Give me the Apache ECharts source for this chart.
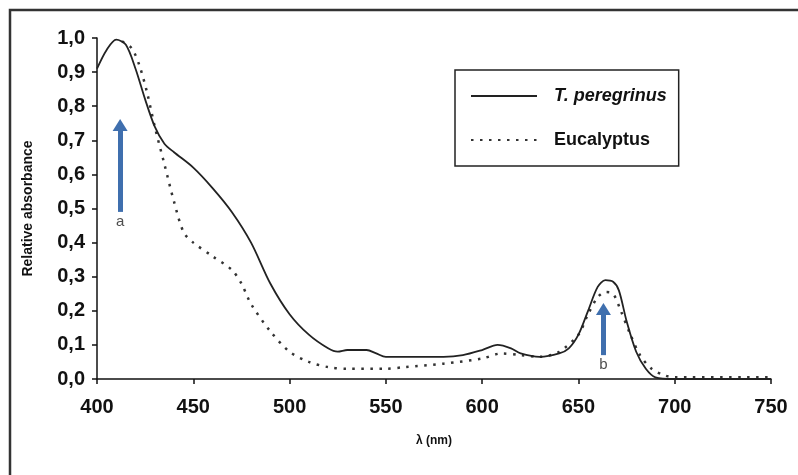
<!DOCTYPE html>
<html>
<head>
<meta charset="utf-8">
<script src="https://cdn.jsdelivr.net/npm/echarts@6/dist/echarts.min.js"></script>
<style>
  html, body { margin: 0; padding: 0; background: #fff; }
  #chart { width: 798px; height: 475px; }
</style>
</head>
<body>
<div id="chart"></div>
<script>
// wavelength (nm) / relative absorbance
const periWl = [400, 405, 410, 415, 420, 425, 430, 435, 440, 450, 460, 470, 480, 490, 500, 510, 520, 525, 530, 540, 545, 550, 560, 580, 590, 600, 608, 615, 620, 630, 640, 645, 650, 655, 660, 664, 668, 671, 675, 680, 685, 690, 700, 750]
const periAbs = [0.91, 0.965, 0.995, 0.98, 0.91, 0.82, 0.74, 0.69, 0.665, 0.62, 0.56, 0.49, 0.40, 0.28, 0.19, 0.13, 0.09, 0.08, 0.085, 0.085, 0.075, 0.065, 0.065, 0.065, 0.07, 0.085, 0.10, 0.09, 0.075, 0.065, 0.075, 0.09, 0.13, 0.20, 0.27, 0.29, 0.285, 0.26, 0.17, 0.08, 0.03, 0.005, 0, 0]

const eucaWl = [413, 418, 422, 426, 430, 435, 440, 445, 450, 460, 470, 475, 480, 490, 500, 510, 520, 530, 550, 560, 580, 600, 610, 620, 630, 640, 650, 655, 660, 664, 668, 672, 677, 682, 688, 695, 700, 750]
const eucaAbs = [0.99, 0.97, 0.92, 0.84, 0.74, 0.63, 0.52, 0.43, 0.40, 0.36, 0.32, 0.28, 0.22, 0.14, 0.08, 0.05, 0.035, 0.03, 0.03, 0.035, 0.045, 0.06, 0.075, 0.07, 0.065, 0.08, 0.13, 0.19, 0.24, 0.255, 0.25, 0.20, 0.13, 0.07, 0.03, 0.01, 0.005, 0.005]

const xTicks = [400, 450, 500, 550, 600, 650, 700, 750]
const yTicks = [0, 0.1, 0.2, 0.3, 0.4, 0.5, 0.6, 0.7, 0.8, 0.9, 1.0]

// arrows: [wavelength, from, to, label]
const arrowA = [412, 0.49, 0.745, 'a']
const arrowB = [663, 0.07, 0.205, 'b']

const chart = echarts.init(document.getElementById('chart'))

function zip(xs, ys) {
  return xs.map((x, i) => [x, ys[i]])
}

function arrowLine(a) {
  return [{ coord: [a[0], a[1]] }, { coord: [a[0], a[2]] }]
}

const labelFont = { fontFamily: 'Liberation Sans', fontWeight: 900, fontSize: 20, color: '#111' }

chart.setOption({
  animation: false,
  backgroundColor: '#fff',
  graphic: [{
    type: 'rect',
    shape: { x: 10, y: 10, width: 820, height: 500 },
    style: { fill: 'none', stroke: '#333', lineWidth: 2.5 }
  }],
  grid: { left: 97, right: 27, top: 38, bottom: 96 },
  legend: {
    left: 455,
    top: 70,
    orient: 'vertical',
    width: 227,
    padding: [17, 12, 17, 15],
    itemGap: 26,
    itemWidth: 66,
    itemHeight: 14,
    borderColor: '#222',
    borderWidth: 1.5,
    itemStyle: { opacity: 0 },
    textStyle: { fontFamily: 'Liberation Sans', fontWeight: 'bold', fontSize: 18, color: '#111', padding: [0, 0, 0, 12] },
    data: [
      { name: 'T. peregrinus', textStyle: { fontStyle: 'italic' } },
      { name: 'Eucalyptus' }
    ]
  },
  xAxis: {
    type: 'value',
    min: 400,
    max: 750,
    interval: 50,
    name: 'λ (nm)',
    nameLocation: 'middle',
    nameGap: 56,
    nameTextStyle: { fontFamily: 'Liberation Sans', fontWeight: 'bold', fontSize: 12, color: '#111' },
    axisLine: { lineStyle: { color: '#111', width: 1.5 } },
    axisTick: { length: 5, lineStyle: { color: '#111', width: 1.5 } },
    axisLabel: Object.assign({ margin: 18, formatter: v => xTicks.includes(v) ? String(v) : '' }, labelFont),
    splitLine: { show: false }
  },
  yAxis: {
    type: 'value',
    min: 0,
    max: 1,
    interval: 0.1,
    name: 'Relative absorbance',
    nameLocation: 'middle',
    nameGap: 62,
    nameTextStyle: { fontFamily: 'Liberation Sans', fontWeight: 'bold', fontSize: 14, color: '#111' },
    axisLine: { show: true, lineStyle: { color: '#111', width: 1.5 } },
    axisTick: { show: true, length: 5, lineStyle: { color: '#111', width: 1.5 } },
    axisLabel: Object.assign({
      margin: 12,
      formatter: v => yTicks.some(t => Math.abs(t - v) < 1e-6) ? v.toFixed(1).replace('.', ',') : ''
    }, labelFont),
    splitLine: { show: false }
  },
  series: [
    {
      name: 'T. peregrinus',
      type: 'line',
      data: zip(periWl, periAbs),
      smooth: 0.3,
      showSymbol: false,
      symbol: 'none',
      lineStyle: { color: '#222', width: 1.8, type: 'solid' },
      itemStyle: { color: '#222' },
      markLine: {
        silent: true,
        symbol: ['none', 'triangle'],
        symbolSize: [15, 12],
        label: { show: false },
        lineStyle: { color: '#3f6fae', width: 5, type: 'solid' },
        data: [arrowLine(arrowA), arrowLine(arrowB)]
      },
      z: 3
    },
    {
      name: 'Eucalyptus',
      type: 'line',
      data: zip(eucaWl, eucaAbs),
      smooth: 0.3,
      showSymbol: false,
      symbol: 'none',
      lineStyle: { color: '#333', width: 2.5, type: [2.5, 6.5] },
      itemStyle: { color: '#333' },
      z: 2
    },
    {
      name: 'labels',
      type: 'scatter',
      symbolSize: 0,
      silent: true,
      data: [[arrowA[0], arrowA[1]], [arrowB[0], arrowB[1]]],
      label: {
        show: true,
        position: 'bottom',
        distance: 2,
        formatter: p => p.dataIndex === 0 ? arrowA[3] : arrowB[3],
        fontFamily: 'Liberation Sans',
        fontSize: 15,
        color: '#222'
      }
    }
  ]
})
</script>
</body>
</html>
